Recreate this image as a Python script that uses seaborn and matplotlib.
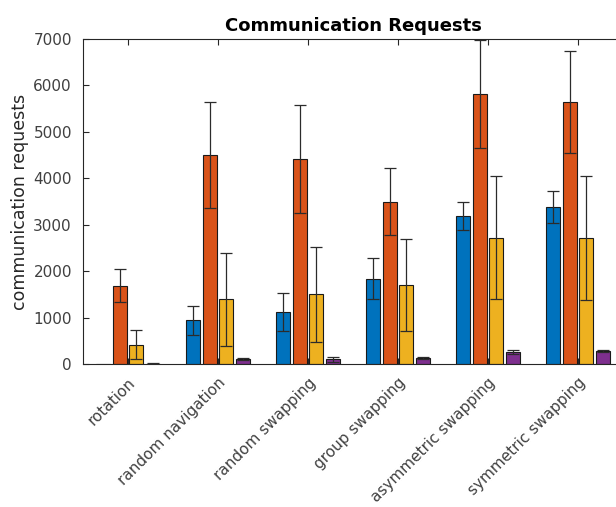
import pandas as pd
import matplotlib
matplotlib.use("Agg")
import matplotlib.pyplot as plt
import seaborn as sns

# Données
scenarios = ["rotation", "random navigation", "random swapping",
             "group swapping", "asymmetric swapping", "symmetric swapping"]
series = ["series 1", "series 2", "series 3", "series 4"]

blue_mean = [-20, 945, 1120, 1840, 3190, 3380]
blue_err = [8, 315, 405, 450, 305, 350]
orange_mean = [1690, 4500, 4420, 3500, 5815, 5640]
orange_err = [360, 1150, 1160, 730, 1170, 1095]
yellow_mean = [420, 1390, 1500, 1700, 2720, 2710]
yellow_err = [315, 1000, 1030, 990, 1330, 1340]
purple_mean = [10, 110, 100, 130, 260, 275]
purple_err = [5, 20, 55, 30, 50, 20]

colors = ["#0072BD", "#D95319", "#EDB120", "#7E2F8E"]

means = [blue_mean, orange_mean, yellow_mean, purple_mean]
errs = [blue_err, orange_err, yellow_err, purple_err]

# Table longue pour seaborn
rows = []
for s, m in zip(series, means):
    for sc, v in zip(scenarios, m):
        rows.append({"scenario": sc, "series": s, "value": v})
df = pd.DataFrame(rows)

fig = plt.figure(figsize=(6.16, 5.07), dpi=100)
ax = fig.add_axes([83 / 616, 143 / 507, 540 / 616, 325 / 507])

sns.barplot(data=df, x="scenario", y="value", hue="series", palette=colors,
            width=0.74, gap=0.18, errorbar=None, edgecolor="#1a1a1a",
            linewidth=0.8, saturation=1, legend=False, ax=ax)

# Barres d'erreur placées sur les barres dessinées
for cont, m, e in zip(ax.containers, means, errs):
    xs = [p.get_x() + p.get_width() / 2 for p in cont]
    ax.errorbar(xs, m, yerr=e, fmt="none", ecolor="#2b2b2b", elinewidth=0.9,
                capsize=4.5, capthick=0.9, zorder=3)

ax.set_xlim(-0.5, 5.5)
ax.set_ylim(0, 7000)
ax.set_yticks(range(0, 7001, 1000))
ax.set_xlabel("")
ax.set_ylabel("communication requests", fontsize=12.5, color="#262626",
              labelpad=3)
ax.set_title("Communication Requests", fontsize=13, fontweight="bold", pad=6)

ax.tick_params(direction="in", top=True, right=True, length=4, width=0.8,
               color="#262626", labelcolor="#404040", labelsize=11)
ax.tick_params(axis="y", pad=8)
ax.tick_params(axis="x", pad=8)
ax.set_xticks(range(len(scenarios)))
ax.set_xticklabels(scenarios, rotation=45, ha="right", rotation_mode="anchor")
for sp in ax.spines.values():
    sp.set_color("#262626")
    sp.set_linewidth(0.8)

fig.savefig("out.png", dpi=100)
